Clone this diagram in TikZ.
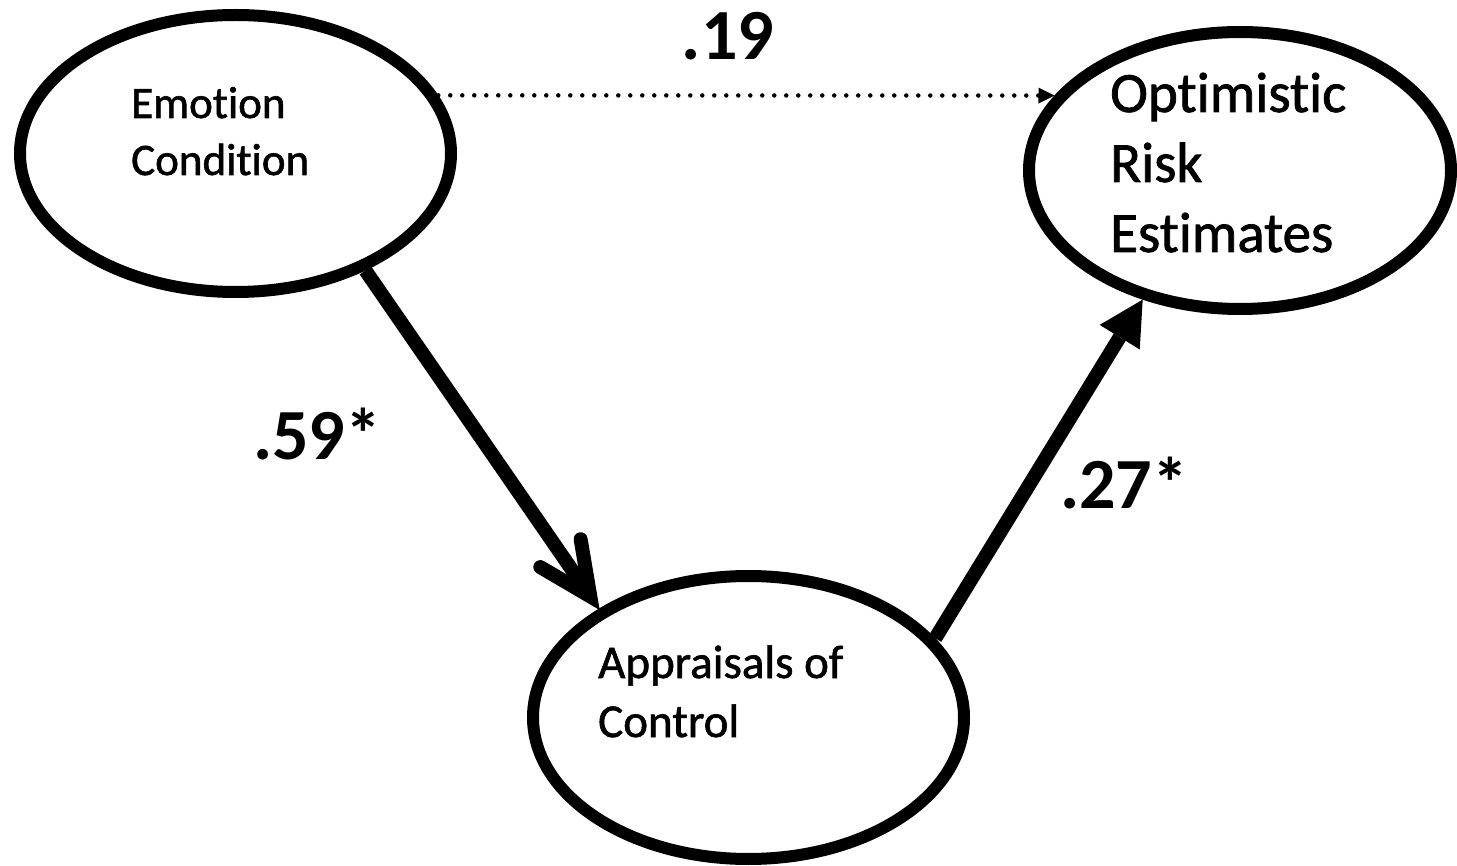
\documentclass[tikz,border=0pt]{standalone}
\usepackage{fontspec}
\setmainfont{Carlito}[Ligatures={NoCommon}]
\usetikzlibrary{shapes.geometric,arrows.meta,calc}
\begin{document}
\begin{tikzpicture}[x=1pt,y=-1pt,
  ell/.style={draw, ellipse, line width=12pt, inner sep=0pt},
  lbl/.style={font=\bfseries\fontsize{72}{86}\selectfont, inner sep=0pt, anchor=base west},
  txt/.style={align=left, inner sep=0pt, anchor=base west},
  thickarrow/.style={line width=14pt},
  dotarrow/.style={line width=4.5pt, line cap=round, dash pattern=on 0pt off 12pt, -{Triangle[length=16pt,width=16pt,line width=0pt]}}
]
\useasboundingbox (0,0) rectangle (1457,866);
\node[ell, minimum width=431pt, minimum height=277pt] (e1) at (235.5,153.5) {};
\node[ell, minimum width=422pt, minimum height=277pt] (e2) at (1240,170.5) {};
\node[ell, minimum width=431pt, minimum height=283pt] (e3) at (748.5,717.5) {};
\node[txt, font=\fontsize{45}{57}\selectfont\addfontfeature{FakeBold=1.3}] (t1) at (131,175) {Emotion\\Condition};
\node[txt, font=\fontsize{57}{70}\selectfont\addfontfeature{FakeBold=1.3}] (t2) at (1110,252) {Optimistic\\Risk\\Estimates};
\node[txt, font=\fontsize{47}{59}\selectfont\addfontfeature{FakeBold=1.3}] (t3) at (598,737) {Appraisals of\\Control};
\node[lbl, anchor=base] (l1) at (728,60) {.19};
\node[lbl] (l2) at (253,460) {.59*};
\node[lbl] (l3) at (1060,508) {.27*};
\draw[dotarrow] (e1.16) -- (e2.158);
\draw[thickarrow, -{Triangle[length=44pt,width=47pt,line width=0pt]}] (e3.23) -- (e2.233);
\coordinate (T) at ($(e3.144)!15pt!(e1.-42)$);
\draw[thickarrow] (e1.-42) -- (T);
\draw[thickarrow, line cap=round, line join=miter] ($(T)!58pt!25:(e1.-42)$) -- (T) -- ($(T)!58pt!-25:(e1.-42)$);
\end{tikzpicture}
\end{document}
